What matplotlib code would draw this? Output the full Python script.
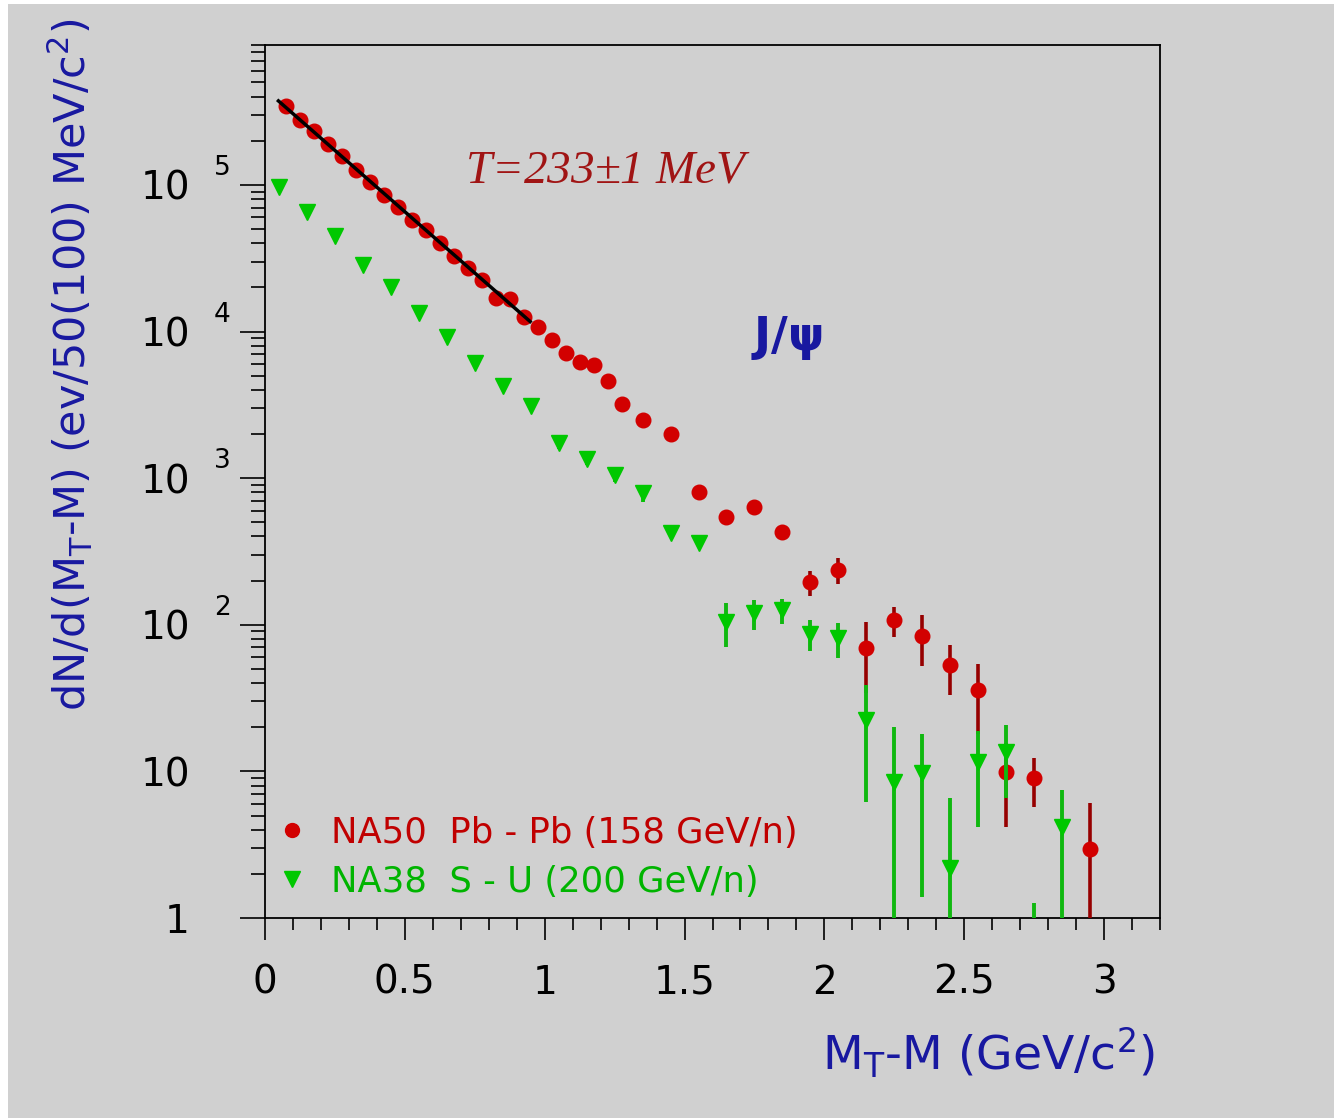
import matplotlib
matplotlib.use("Agg")
import matplotlib.pyplot as plt
from matplotlib.ticker import LogLocator, MultipleLocator, FixedLocator, FixedFormatter, NullFormatter
from matplotlib.lines import Line2D
from matplotlib.patches import Rectangle

plt.rcParams['font.family'] = ['DejaVu Sans']
plt.rcParams['mathtext.default'] = 'regular'

# ---------------- data ----------------
na50_x = [0.075, 0.125, 0.175, 0.225, 0.275, 0.325, 0.375, 0.425, 0.475, 0.525,
          0.575, 0.625, 0.675, 0.725, 0.775, 0.825, 0.875, 0.925, 0.975, 1.025,
          1.075, 1.125, 1.175, 1.225, 1.275, 1.35, 1.45, 1.55, 1.65, 1.75,
          1.85, 1.95, 2.05, 2.15, 2.25, 2.35, 2.45, 2.55, 2.65, 2.75, 2.95]
na50_y = [3.47e5, 2.75e5, 2.34e5, 1.9e5, 1.58e5, 1.26e5, 1.05e5, 8.5e4, 7.1e4, 5.75e4,
          4.9e4, 4.0e4, 3.3e4, 2.7e4, 2.24e4, 1.7e4, 1.66e4, 1.26e4, 1.07e4, 8.7e3,
          7.1e3, 6.2e3, 5.9e3, 4.6e3, 3.2e3, 2.5e3, 2.0e3, 805, 543, 635,
          430, 195, 237, 69.5, 108, 84, 53, 36, 9.9, 9.0, 2.96]
na50_err = [3.0e3, 2.6e3, 2.4e3, 2.1e3, 1.9e3, 1.7e3, 1.5e3, 1.3e3, 1.2e3, 1.0e3,
            950, 850, 780, 700, 640, 560, 550, 480, 440, 400,
            360, 330, 320, 280, 230, 200, 180, 50, 60, 65,
            50, 37, 48, 35, 25, 32, 20, 18, 5.7, 3.3, 3.1]

na38_x = [0.05, 0.15, 0.25, 0.35, 0.45, 0.55, 0.65, 0.75, 0.85, 0.95,
          1.05, 1.15, 1.25, 1.35, 1.45, 1.55, 1.65, 1.75, 1.85, 1.95,
          2.05, 2.15, 2.25, 2.35, 2.45, 2.55, 2.65, 2.75, 2.85]
na38_y = [9.7e4, 6.5e4, 4.5e4, 2.85e4, 2.0e4, 1.34e4, 9.2e3, 6.1e3, 4.26e3, 3.1e3,
          1.74e3, 1.35e3, 1.05e3, 790, 423, 363, 105, 120, 126, 87,
          81, 22.4, 8.5, 9.7, 2.18, 11.6, 13.6, 0.5, 4.2]
na38_err = [1.2e3, 1.0e3, 800, 640, 520, 420, 350, 280, 240, 200,
            150, 130, 115, 100, 20, 20, 35, 28, 25, 21,
            22, 16.2, 11.7, 8.3, 4.4, 7.4, 7.0, 0.77, 3.3]

fit_x = [0.048, 0.948]
fit_y = [3.74e5, 1.17e4]

x_ticks = [0, 0.5, 1, 1.5, 2, 2.5, 3]
x_ticklabels = ['0', '0.5', '1', '1.5', '2', '2.5', '3']
y_ticks = [1, 10, 100, 1000, 1e4, 1e5]
y_ticklabels = ['1', '10', '10', '10', '10', '10']
y_exponents = ['', '', '2', '3', '4', '5']

# ---------------- style ----------------
BG = '#D0D0D0'
RED = '#D20000'
RED_BAR = '#960000'
GREEN = '#00C800'
GREEN_BAR = '#10B810'
BLUE = '#1818A0'

W, H = 1334, 1118
fig = plt.figure(figsize=(W / 100, H / 100), dpi=100, facecolor='white')
fig.patches.append(Rectangle((8 / W, 0), 1 - 8 / W, 1 - 4 / H, transform=fig.transFigure,
                             facecolor=BG, edgecolor='none', zorder=-10))

ax = fig.add_axes([265 / W, 1 - 918 / H, 895 / W, 873 / H])
ax.set_facecolor(BG)
ax.set_yscale('log')
ax.set_xlim(0, 3.2)
ax.set_ylim(1, 9e5)

ax.errorbar(na50_x, na50_y, yerr=na50_err, fmt='o', ms=10.5, color=RED, mec=RED,
            ecolor=RED_BAR, elinewidth=2.6, capsize=0, zorder=3)
ax.errorbar(na38_x, na38_y, yerr=na38_err, fmt='v', ms=11.5, color=GREEN, mec=GREEN,
            ecolor=GREEN_BAR, elinewidth=2.8, capsize=0, zorder=4)
ax.plot(fit_x, fit_y, color='black', lw=2.5, zorder=5)

for s in ax.spines.values():
    s.set_linewidth(1.3)
    s.set_color('black')

ax.xaxis.set_major_locator(FixedLocator(x_ticks))
ax.xaxis.set_major_formatter(FixedFormatter(x_ticklabels))
ax.xaxis.set_minor_locator(MultipleLocator(0.1))
ax.yaxis.set_major_locator(FixedLocator(y_ticks))
ax.yaxis.set_major_formatter(FixedFormatter(y_ticklabels))
ax.yaxis.set_minor_locator(LogLocator(base=10, subs=[2, 3, 4, 5, 6, 7, 8, 9], numticks=20))
ax.yaxis.set_minor_formatter(NullFormatter())

ax.tick_params(axis='x', which='major', direction='out', length=16, width=1.2,
               labelsize=28, pad=17, top=False)
ax.tick_params(axis='x', which='minor', direction='out', length=8.5, width=1.2, top=False)
ax.tick_params(axis='y', which='major', direction='out', length=18, width=1.2,
               labelsize=28, pad=36, right=False)
ax.tick_params(axis='y', which='minor', direction='out', length=10, width=1.2, right=False)

# ROOT-style exponents drawn beside the "10" tick labels
for yv, e in zip(y_ticks, y_exponents):
    if e:
        ax.annotate(e, xy=(-0.057, yv), xycoords=('axes fraction', 'data'),
                    xytext=(0, 12), textcoords='offset points', ha='left', va='center',
                    fontsize=19, annotation_clip=False)

ax.set_xlabel(r'M$_{\mathregular{T}}$-M (GeV/c$^{\mathregular{2}}$)', color=BLUE,
              fontsize=34, ha='right')
ax.xaxis.set_label_coords(0.994, -0.123)
ax.set_ylabel(r'dN/d(M$_{\mathregular{T}}$-M) (ev/50(100) MeV/c$^{\mathregular{2}}$)',
              color=BLUE, fontsize=31)
ax.yaxis.set_label_coords(-0.19, 0.633)

ax.text(1.226, 1.24e5, 'T=233$\\pm$1 MeV', color='#A01414', fontsize=34,
        family='Liberation Serif', style='italic', ha='center', va='center')
ax.text(1.866, 9.1e3, r'J/$\psi$', color=BLUE, fontsize=33, fontweight='bold',
        ha='center', va='center')

handles = [Line2D([], [], marker='o', ls='none', color=RED, ms=10),
           Line2D([], [], marker='v', ls='none', color=GREEN, ms=11)]
labels = ['NA50  Pb - Pb (158 GeV/n)', 'NA38  S - U (200 GeV/n)']
leg = ax.legend(handles, labels, loc='lower left', bbox_to_anchor=(0.0, 6 / 873),
                frameon=False, fontsize=25.5, handlelength=0.8, handletextpad=0.68,
                borderpad=0.375, labelspacing=0.42, borderaxespad=0.0)
for t, c in zip(leg.get_texts(), ['#C00000', '#00B400']):
    t.set_color(c)

fig.savefig('out.png', dpi=100, facecolor=fig.get_facecolor())
